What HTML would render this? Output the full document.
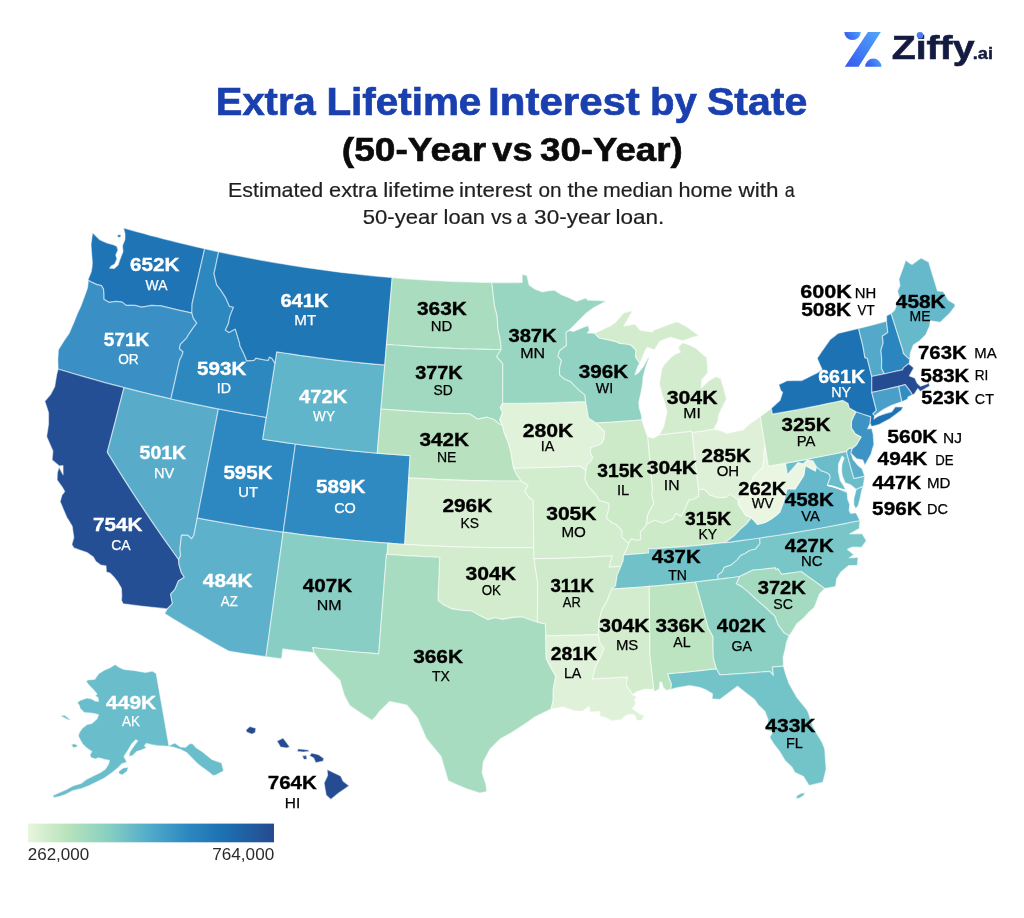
<!DOCTYPE html>
<html lang="en">
<head>
<meta charset="utf-8">
<title>Extra Lifetime Interest by State (50-Year vs 30-Year)</title>
<style>
html,body{margin:0;padding:0;background:#fff}
body{width:1024px;height:918px;overflow:hidden;position:relative;font-family:"Liberation Sans",sans-serif;color:#000}
header,section,figure,footer,h1,h2,p{margin:0;padding:0;font:inherit}
svg{position:absolute;display:block;overflow:visible;font-family:"Liberation Sans",sans-serif}
.states path{stroke:#fff;stroke-width:1.2;stroke-linejoin:round;stroke-opacity:.5}
.water{fill:none;stroke:#fff;stroke-width:1.5;stroke-linecap:round;stroke-linejoin:round}
.v{font-weight:700;font-size:19.2px;stroke-width:.35}
.a{font-weight:400;font-size:15px;stroke-width:.25}
.w text{fill:#fff;stroke:#fff}
.k text{fill:#000;stroke:#000}
.t1{font-weight:700;font-size:39px;fill:#1a3fae;stroke:#1a3fae;stroke-width:.7}
.t2{font-weight:700;font-size:33.3px;fill:#0b0b0b;stroke:#0b0b0b;stroke-width:.6}
.t3{font-weight:400;font-size:20.6px;fill:#1f1f1f;stroke:#1f1f1f;stroke-width:.2}
.lt{font-weight:400;font-size:17.3px;fill:#2a2a2a}
.z1{font-weight:700;font-size:33.6px;fill:#141b41;stroke:#141b41;stroke-width:.6}
.z2{font-weight:700;font-size:16.2px;fill:#141b41;stroke:#141b41;stroke-width:.4}
</style>
</head>
<body>
<header class="brand">
<svg class="logo" style="left:836px;top:20px" width="176" height="60" viewBox="836 20 176 60" role="img" aria-label="Ziffy.ai">
<defs><linearGradient id="zg" x1="0" y1="1" x2="1" y2="0"><stop offset="0" stop-color="#3557f0"/><stop offset="1" stop-color="#52a8f8"/></linearGradient><linearGradient id="zg1" x1="0" y1="0.3" x2="1" y2="0"><stop offset="0" stop-color="#3a5cf0"/><stop offset="1" stop-color="#4da6f8"/></linearGradient></defs>
<path d="M844.3,31.9H860.7A8.2,8.2 0 0 1 844.3,31.9Z" fill="url(#zg1)"/>
<path d="M867.9,31.9H880.8L858.6,66.65H844.8Z" fill="url(#zg)"/>
<path d="M865.2,66.65A8.1,8.1 0 0 1 881.4,66.65Z" fill="url(#zg1)"/>
<text class="z1" x="891.73" y="59.10" textLength="82.78" lengthAdjust="spacingAndGlyphs">Ziffy</text>
<circle cx="920" cy="35.3" r="3.3" fill="#4a7df0"/>
<text class="z2" x="972.77" y="59.20" textLength="20.22" lengthAdjust="spacingAndGlyphs">.ai</text>
</svg>
</header>
<section class="heading">
<h1><svg class="title" style="left:200px;top:80px" width="624" height="44" viewBox="200 80 624 44" role="img" aria-label="Extra Lifetime Interest by State">
<text class="t1" y="114.60"><tspan x="215.78" textLength="99.87" lengthAdjust="spacingAndGlyphs">Extra</tspan> <tspan x="326.40" textLength="154.93" lengthAdjust="spacingAndGlyphs">Lifetime</tspan> <tspan x="488.14" textLength="151.72" lengthAdjust="spacingAndGlyphs">Interest</tspan> <tspan x="649.90" textLength="46.86" lengthAdjust="spacingAndGlyphs">by</tspan> <tspan x="706.97" textLength="100.33" lengthAdjust="spacingAndGlyphs">State</tspan></text>
</svg></h1>
<h2><svg class="subtitle" style="left:200px;top:128px" width="624" height="44" viewBox="200 128 624 44" role="img" aria-label="(50-Year vs 30-Year)">
<text class="t2" y="160.50"><tspan x="341.88" textLength="144.27" lengthAdjust="spacingAndGlyphs">(50-Year</tspan> <tspan x="492.36" textLength="40.07" lengthAdjust="spacingAndGlyphs">vs</tspan> <tspan x="540.07" textLength="142.68" lengthAdjust="spacingAndGlyphs">30-Year)</tspan></text>
</svg></h2>
<p><svg class="desc" style="left:200px;top:174px" width="624" height="58" viewBox="200 174 624 58" role="img" aria-label="Estimated extra lifetime interest on the median home with a 50-year loan vs a 30-year loan.">
<text class="t3" y="196.90"><tspan x="228.04" textLength="95.24" lengthAdjust="spacingAndGlyphs">Estimated</tspan> <tspan x="329.07" textLength="48.43" lengthAdjust="spacingAndGlyphs">extra</tspan> <tspan x="383.29" textLength="71.11" lengthAdjust="spacingAndGlyphs">lifetime</tspan> <tspan x="458.91" textLength="73.16" lengthAdjust="spacingAndGlyphs">interest</tspan> <tspan x="538.53" textLength="23.12" lengthAdjust="spacingAndGlyphs">on</tspan> <tspan x="567.47" textLength="30.72" lengthAdjust="spacingAndGlyphs">the</tspan> <tspan x="602.98" textLength="70.00" lengthAdjust="spacingAndGlyphs">median</tspan> <tspan x="678.50" textLength="54.16" lengthAdjust="spacingAndGlyphs">home</tspan> <tspan x="738.63" textLength="39.93" lengthAdjust="spacingAndGlyphs">with</tspan> <tspan x="784.74" textLength="9.96" lengthAdjust="spacingAndGlyphs">a</tspan></text>
<text class="t3" y="223.60"><tspan x="362.82" textLength="74.85" lengthAdjust="spacingAndGlyphs">50-year</tspan> <tspan x="443.62" textLength="41.40" lengthAdjust="spacingAndGlyphs">loan</tspan> <tspan x="491.03" textLength="21.14" lengthAdjust="spacingAndGlyphs">vs</tspan> <tspan x="516.61" textLength="10.29" lengthAdjust="spacingAndGlyphs">a</tspan> <tspan x="534.14" textLength="76.33" lengthAdjust="spacingAndGlyphs">30-year</tspan> <tspan x="615.48" textLength="48.88" lengthAdjust="spacingAndGlyphs">loan.</tspan></text>
</svg></p>
</section>
<figure class="map">
<svg class="usmap" style="left:0px;top:224px" width="1024" height="592" viewBox="0 224 1024 592" role="img" aria-label="US choropleth map">
<g class="states">
<path id="st-WA" d="M123.5,227.9L130.2,229.8L136.9,231.7L143.7,233.5L150.4,235.4L157.2,237.1L163.9,238.9L170.7,240.6L177.5,242.3L184.3,244L191.1,245.6L197.9,247.2L204.7,248.7L202.6,257.8L200.5,267L198.4,276.1L196.3,285.3L194.2,294.5L192.1,303.7L191.9,313.1L185.7,311.7L179.5,310.3L173.3,308.8L167.1,307.3L160.9,305.8L156.2,305.6L151.6,305.3L146.5,306.3L141.5,307.2L134.9,305.3L130.5,305.4L126.1,305.4L122.2,302.1L116.1,301.3L109.3,302.4L103.8,299.2L103.8,295L103.5,289.2L101.4,285.6L96.9,284.6L92,282.4L87.9,280L91.2,271.8L92.1,266.4L92.3,261.9L91.7,254.8L91.3,249.5L91,244.3L91.8,238.5L92.6,232.7L96,236.1L99.5,239.6L103.5,241.4L107.7,243.2L113.4,244.7L116.8,246.3L118,250.1L115.8,255.1L117,258.9L114.8,264L111,266.3L109.7,268.2L114.3,268.4L118.1,264.9L120.2,258.7L123,251.5L122.4,245.7L124.9,239.6L125,233.9L123.5,227.9ZM117.3,235.2L119.5,234.4L121.3,235.6L120.2,237.3L117.8,237.2Z" fill="#1e74b4"/>
<path id="st-OR" d="M87.9,280L92,282.4L96.9,284.6L101.4,285.6L103.5,289.2L103.8,295L103.8,299.2L109.3,302.4L116.1,301.3L122.2,302.1L126.1,305.4L130.5,305.4L134.9,305.3L141.5,307.2L146.5,306.3L151.6,305.3L156.2,305.6L160.9,305.8L167.1,307.3L173.3,308.8L179.5,310.3L185.7,311.7L191.9,313.1L193.2,317.9L196.8,323.2L193.4,327.6L191.6,330.2L188,335.5L186.6,338.1L180.4,344.4L179.4,348.7L183.1,351.8L181.8,356L179.6,360.1L177.4,369.8L175.3,379.5L173.1,389.2L170.9,399L163.3,397.2L155.7,395.5L148.2,393.7L140.6,391.8L133.1,389.9L125.5,388L118,386.1L110.5,384.1L103,382.1L95.5,380L88,377.9L80.5,375.7L73,373.6L65.6,371.3L58.1,369.1L57.8,359.7L58.4,349.7L64,340.7L69.3,333.1L71.4,328L73.6,322.9L77.4,313.6L80.7,306.6L82.6,301.4L84.5,296.2L87.5,287.9L88.3,281.3L87.9,280Z" fill="#3a90c4"/>
<path id="st-CA" d="M58.1,369.1L65.4,371.3L72.7,373.5L80,375.6L87.3,377.7L94.6,379.7L101.9,381.8L109.3,383.8L116.6,385.7L124,387.6L121.2,398.4L118.4,409.1L115.7,419.9L112.9,430.6L110.1,441.4L107.3,452.1L112.1,459.9L116.9,467.7L121.7,475.4L126.6,483.1L131.6,490.9L136.6,498.6L141.7,506.2L146.8,513.9L152,521.6L157.2,529.2L162.5,536.8L167.9,544.4L173.3,552L178.7,559.6L178.9,564.2L181.3,572.5L184.3,577.2L178.4,581L174.9,589.4L170.6,594.2L172.4,603.6L167.3,608.9L158.4,607.9L149.6,607L140.8,606L131.9,604.9L123.1,603.8L121.4,600.2L121.8,596.2L121.4,588.2L117.3,581.3L113.7,576.8L109.9,573L106.4,572.1L106,565.9L100.7,565L95.9,561.6L93.3,557L87,552.5L80.4,550.2L73.9,547.9L71.8,544.6L73.8,537.6L73,532L72.2,526.3L69.5,521.8L66.7,517.3L63.4,509.4L60.1,501.6L61.9,495.2L64.7,491.4L62.3,487.2L57.1,480L57.3,473.1L59,467.1L63.1,474.7L63,465.5L59.3,466L55.7,463L52.1,460L52.9,451L49.7,443.7L46.6,436.4L47.6,430.3L48.5,424.2L48.5,418.4L48.5,412.6L46.7,406.9L44.8,401.2L50.5,394.6L54.7,386.6L55.7,380.5L56.7,374.4L58.1,369.1Z" fill="#244f95"/>
<path id="st-NV" d="M124,387.6L131.8,389.6L139.6,391.6L147.5,393.5L155.3,395.4L163.2,397.2L171,399L178.9,400.7L186.8,402.4L194.7,404.1L202.6,405.7L210.5,407.3L218.4,408.9L216.5,418.8L214.6,428.7L212.7,438.6L210.8,448.5L208.8,458.4L206.9,468.3L205,478.2L203.1,488.2L201.1,498.1L199.2,508L197.3,517.9L195.6,526.7L193.9,535.4L191.5,538.8L187.7,535.3L181.6,535.2L181.2,537.4L180.6,543L180,548.5L180.6,555.4L178.7,559.6L173.3,552L167.9,544.4L162.5,536.8L157.2,529.2L152,521.6L146.8,513.9L141.7,506.2L136.6,498.6L131.6,490.9L126.6,483.1L121.7,475.4L116.9,467.7L112.1,459.9L107.3,452.1L110.1,441.4L112.9,430.6L115.7,419.9L118.4,409.1L121.2,398.4L124,387.6Z" fill="#58acca"/>
<path id="st-AZ" d="M197.3,517.9L205.9,519.6L214.4,521.1L223,522.7L231.6,524.2L240.2,525.6L248.8,527L257.4,528.3L266,529.6L274.6,530.9L283.2,532.1L281.8,542.5L280.3,552.9L278.9,563.3L277.5,573.7L276,584.1L274.6,594.5L273.2,604.9L271.7,615.3L270.3,625.6L268.9,636L267.4,646.4L266,656.7L258.5,655.7L251,654.6L243.5,653.5L236,652.3L228.6,651.1L220.4,646.6L212.3,642L204.3,637.3L196.3,632.6L188.3,627.9L180.4,623.2L172.5,618.4L164.6,613.5L167.3,608.9L172.4,603.6L170.6,594.2L174.9,589.4L178.4,581L184.3,577.2L181.3,572.5L178.9,564.2L178.7,559.6L180.6,555.4L180,548.5L180.6,543L181.2,537.4L181.6,535.2L187.7,535.3L191.5,538.8L193.9,535.4L195.6,526.7L197.3,517.9Z" fill="#5db1ca"/>
<path id="st-UT" d="M218.4,408.9L226.4,410.4L234.4,411.8L242.3,413.3L250.3,414.6L258.3,416L266.3,417.3L264.5,428.2L262.8,439.2L270.9,440.5L279.1,441.7L287.2,442.9L295.4,444L293.9,455L292.3,466.1L290.8,477.1L289.3,488.1L287.8,499.1L286.3,510.1L284.7,521.1L283.2,532.1L274.6,530.9L266,529.6L257.4,528.3L248.8,527L240.2,525.6L231.6,524.2L223,522.7L214.4,521.1L205.9,519.6L197.3,517.9L199.2,508L201.1,498.1L203.1,488.2L205,478.2L206.9,468.3L208.8,458.4L210.8,448.5L212.7,438.6L214.6,428.7L216.5,418.8Z" fill="#2d87c0"/>
<path id="st-CO" d="M295.4,444L303.5,445.2L311.7,446.2L319.9,447.2L328.1,448.2L336.3,449.2L344.5,450L352.7,450.9L360.9,451.7L369.1,452.5L377.3,453.2L385.5,453.9L393.7,454.5L401.9,455.1L410.1,455.6L409.5,465.5L408.9,475.3L408.3,485.2L407.7,495L407.1,504.9L406.5,514.8L405.9,524.6L405.3,534.5L404.7,544.4L396.5,543.8L388.4,543.2L380.3,542.6L372.2,542L364.1,541.3L356,540.5L347.9,539.8L339.8,538.9L331.7,538.1L323.6,537.2L315.5,536.3L307.4,535.3L299.3,534.3L291.3,533.2L283.2,532.1L284.7,521.1L286.3,510.1L287.8,499.1L289.3,488.1L290.8,477.1L292.3,466.1L293.9,455Z" fill="#2f8ac1"/>
<path id="st-WY" d="M276.7,351.8L284.4,353L292.1,354.1L299.8,355.3L307.5,356.3L315.2,357.4L322.9,358.4L330.6,359.3L338.3,360.3L346.1,361.2L353.8,362L361.5,362.8L369.3,363.6L377,364.3L384.8,364.9L383.8,375.9L382.9,386.9L382,398L381,409L380.1,420L379.1,431.1L378.2,442.1L377.3,453.2L369.1,452.5L360.9,451.7L352.7,450.9L344.5,450L336.3,449.2L328.1,448.2L319.9,447.2L311.7,446.2L303.5,445.2L295.4,444L287.2,442.9L279.1,441.7L270.9,440.5L262.8,439.2L264.5,428.2L266.3,417.3L268,406.3L269.8,395.4L271.5,384.5L273.3,373.6L275,362.6Z" fill="#61b5ca"/>
<path id="st-NM" d="M283.2,532.1L291.2,533.2L299.3,534.3L307.3,535.3L315.4,536.2L323.4,537.2L331.5,538.1L339.5,538.9L347.6,539.7L355.7,540.5L363.7,541.2L371.8,541.9L379.9,542.6L388,543.2L387.2,554.3L386.5,554.2L385.7,564.2L384.9,574.2L384.1,584.2L383.4,594.1L382.6,604.1L381.8,614L381,624L380.3,633.9L379.5,643.9L378.7,653.8L370.5,653.2L362.2,652.5L354,651.8L345.7,651L337.5,650.2L329.3,649.4L321.1,648.5L312.8,647.6L314,652.7L306.2,651.8L298.4,650.9L290.6,649.9L282.9,648.9L281.6,658.8L273.8,657.8L266,656.7L267.4,646.4L268.9,636L270.3,625.6L271.7,615.3L273.2,604.9L274.6,594.5L276,584.1L277.5,573.7L278.9,563.3L280.3,552.9L281.8,542.5Z" fill="#88cec5"/>
<path id="st-ID" d="M204.7,248.7L211.7,250.3L218.7,251.8L217.1,259L215.6,266.3L214,273.5L215.3,279.2L216.7,284.8L221.7,291.4L225.8,297.9L229.5,306.4L233.5,307.2L229.8,316.6L228.3,324.1L225.4,330.1L229,332.6L235.3,329.1L236.7,333.6L239.6,343.1L240,346.1L242,350L244.5,355.2L246.7,360.8L254,360.3L255.8,358.1L262,359.4L268.2,360.4L269.3,357L272,358.4L274.9,363.1L273.2,373.9L271.5,384.7L269.7,395.6L268,406.4L266.3,417.3L258.3,416L250.3,414.6L242.3,413.3L234.4,411.8L226.4,410.4L218.4,408.9L210.5,407.3L202.5,405.7L194.6,404.1L186.7,402.4L178.8,400.7L170.9,399L173.1,389.2L175.3,379.5L177.4,369.8L179.6,360.1L181.8,356L183.1,351.8L179.4,348.7L180.4,344.4L186.6,338.1L188,335.5L191.6,330.2L193.4,327.6L196.8,323.2L193.2,317.9L191.9,313.1L192.1,303.7L194.2,294.5L196.3,285.3L198.4,276.1L200.5,267L202.6,257.8L204.7,248.7Z" fill="#2d88c0"/>
<path id="st-MT" d="M218.7,251.8L225.8,253.3L233,254.8L240.2,256.2L247.3,257.6L254.5,259L261.7,260.3L268.9,261.6L276.1,262.8L283.3,264L290.6,265.2L297.8,266.3L305,267.4L312.3,268.5L319.5,269.5L326.7,270.5L334,271.4L341.3,272.4L348.5,273.2L355.8,274L363.1,274.8L370.3,275.6L377.6,276.3L384.9,277L392.2,277.6L391.3,288.5L390.3,299.3L389.4,310.2L388.5,321.1L387.5,332.1L386.6,343L385.7,354L384.8,364.9L377,364.3L369.3,363.6L361.5,362.8L353.8,362L346.1,361.2L338.3,360.3L330.6,359.3L322.9,358.4L315.2,357.4L307.5,356.3L299.8,355.3L292.1,354.1L284.4,353L276.7,351.8L275.8,357.4L274.9,363.1L272,358.4L269.3,357L268.2,360.4L262,359.4L255.8,358.1L254,360.3L246.7,360.8L244.5,355.2L242,350L240,346.1L239.6,343.1L236.7,333.6L235.3,329.1L229,332.6L225.4,330.1L228.3,324.1L229.8,316.6L233.5,307.2L229.5,306.4L225.8,297.9L221.7,291.4L216.7,284.8L215.3,279.2L214,273.5L215.6,266.3L217.1,259L218.7,251.8Z" fill="#2077b6"/>
<path id="st-ND" d="M392.2,277.6L399.3,278.2L406.4,278.8L413.5,279.3L420.6,279.7L427.7,280.2L434.8,280.6L441.9,280.9L449.1,281.3L456.2,281.6L463.3,281.8L470.4,282L477.5,282.2L484.7,282.4L491.8,282.5L492.5,287.9L493.1,293.4L493.8,299.6L494.5,305.8L497.1,315.3L497.5,322.1L498,328.9L499.3,335.2L500.6,341.6L501.2,349.5L493.5,349.5L485.9,349.4L478.2,349.2L470.6,349L462.9,348.8L455.3,348.5L447.6,348.2L440,347.9L432.3,347.5L424.7,347.1L417,346.6L409.4,346.1L401.8,345.5L394.1,345L386.5,344.3L387.3,334.8L388.1,325.2L388.9,315.6L389.8,306.1L390.6,296.6L391.4,287.1Z" fill="#aaddc0"/>
<path id="st-SD" d="M386.5,344.3L394.1,345L401.8,345.5L409.4,346.1L417,346.6L424.7,347.1L432.3,347.5L440,347.9L447.6,348.2L455.3,348.5L462.9,348.8L470.6,349L478.2,349.2L485.9,349.4L493.5,349.5L501.2,349.5L496.7,356.5L499.7,360.1L502.8,363.6L502.8,373.5L502.7,383.5L502.7,393.4L502.6,403.4L500.2,407.8L502.6,412.2L499.7,419.9L502.5,425.7L498.5,423.3L493.7,419.5L487.3,417.2L482.5,418.2L477.6,419.2L473.7,416.6L469.7,413.9L462.3,413.7L454.9,413.5L447.5,413.2L440.1,412.8L432.7,412.5L425.3,412.1L418,411.7L410.6,411.2L403.2,410.7L395.8,410.2L388.4,409.6L381,409L381.9,398.2L382.9,387.4L383.8,376.6L384.7,365.8L385.6,355.1Z" fill="#a0d9c0"/>
<path id="st-NE" d="M381,409L388.4,409.6L395.8,410.2L403.2,410.7L410.6,411.2L418,411.7L425.3,412.1L432.7,412.5L440.1,412.8L447.5,413.2L454.9,413.5L462.3,413.7L469.7,413.9L473.7,416.6L477.6,419.2L482.5,418.2L487.3,417.2L493.7,419.5L498.5,423.3L502.5,425.7L504.1,432.2L506.1,437.2L508.1,442.1L510.9,452.1L512.3,461L513.6,468.1L517.3,475.4L521.3,481L513.3,481L505.2,481L497.2,481L489.1,480.9L481.1,480.7L473,480.6L465,480.4L456.9,480.1L448.9,479.8L440.9,479.5L432.8,479.1L424.8,478.7L416.8,478.3L408.7,477.8L409.4,466.7L410.1,455.6L401.9,455.1L393.7,454.5L385.5,453.9L377.3,453.2L378.2,442.1L379.1,431.1L380.1,420Z" fill="#b8e2bf"/>
<path id="st-KS" d="M408.7,477.8L416.8,478.3L424.8,478.7L432.8,479.1L440.9,479.5L448.9,479.8L456.9,480.1L465,480.4L473,480.6L481.1,480.7L489.1,480.9L497.2,481L505.2,481L513.3,481L521.3,481L528.2,485.3L524.9,490.9L528.3,496.5L533.3,500.6L533.4,510L533.5,519.4L533.6,528.8L533.7,538.1L533.8,547.5L525.2,547.6L516.6,547.7L508,547.7L499.4,547.7L490.7,547.6L482.1,547.5L473.5,547.3L464.9,547.1L456.3,546.8L447.7,546.5L439.1,546.2L430.5,545.8L421.9,545.4L413.3,544.9L404.7,544.4L405.2,534.8L405.8,525.3L406.4,515.8L407,506.3L407.6,496.8L408.1,487.3Z" fill="#d8eed3"/>
<path id="st-OK" d="M388,543.2L396.5,543.8L405.1,544.4L413.7,544.9L422.2,545.4L430.8,545.8L439.4,546.2L448,546.5L456.6,546.8L465.1,547.1L473.7,547.3L482.3,547.5L490.9,547.6L499.5,547.7L508.1,547.7L516.6,547.7L525.2,547.6L533.8,547.5L534,558.6L535.2,566.8L536.5,574.9L537.7,583L537.6,592.8L537.6,602.6L537.5,612.3L537.4,622.1L529.8,619.8L522.5,617L517.9,617.2L513.4,617.4L508,618.4L502.5,619.4L495.3,617.6L488,619.7L483.5,617.5L479,615.2L471.8,611L467.3,610.7L462.8,610.4L457.4,609.7L452,608.9L447.5,606.8L443.1,604.6L437.9,600.4L438.3,589.6L438.8,578.9L439.2,568.1L439.7,557.3L430.9,556.9L422.2,556.5L413.4,556L404.7,555.5L395.9,554.9L387.2,554.3Z" fill="#d3ecce"/>
<path id="st-TX" d="M386.5,554.2L394.1,554.8L401.7,555.3L409.2,555.8L416.9,556.2L424.5,556.6L432.1,557L439.7,557.3L439.2,568.1L438.8,578.9L438.3,589.6L437.9,600.4L443.1,604.6L447.5,606.8L452,608.9L457.4,609.7L462.8,610.4L467.3,610.7L471.8,611L479,615.2L483.5,617.5L488,619.7L495.3,617.6L502.5,619.4L508,618.4L513.4,617.4L517.9,617.2L522.5,617L529.8,619.8L537.4,622.1L545.5,624L545.7,632.6L545.9,641.2L546,649.9L546.2,658.5L550.5,667L555.8,676.2L554.5,682.6L553.3,689.1L553.2,694.6L553.2,700.1L551.1,709L542.9,713L534.7,717L527.1,722.6L519.4,727.6L511.7,732.5L505.9,735.8L500.1,739.1L495.2,744L490.2,748.9L486.7,755.4L483.2,762L482.7,767.4L482.1,772.9L484,778.4L485.9,783.9L486.8,791.5L479.8,793L472.8,790.8L465.9,788.5L457,784.7L448.2,780.8L445.8,772.7L443.4,764.6L441.1,756.5L436.1,750.5L431.1,744.4L426.2,738.3L423.3,731.6L420.4,724.9L417.5,718.1L412.1,711.5L406.7,705L398.2,703.2L389.7,701.5L384.6,706.4L379.4,711.4L376.2,716L372,720.3L366.3,716.7L360.6,713L355.1,709.3L349.7,705.5L347,700.4L344.3,695.2L342.1,687.8L340,680.4L334.8,675.2L329.6,669.9L324.5,665L319.3,660.1L314,652.7L312.8,647.6L321.1,648.5L329.3,649.4L337.5,650.2L345.7,651L354,651.8L362.2,652.5L370.5,653.2L378.7,653.8L379.5,643.9L380.3,633.9L381,624L381.8,614L382.6,604.1L383.4,594.1L384.1,584.2L384.9,574.2L385.7,564.2Z" fill="#a8dcc0"/>
<path id="st-LA" d="M545.7,635.7L554.5,635.6L563.3,635.4L572.1,635.2L580.8,634.9L589.6,634.6L598.4,634.3L600.1,643L604.1,648.4L600.8,656.3L598.3,661.4L595.7,666.5L594.1,672.7L592.5,678.8L601.3,678.4L610.1,677.9L618.9,677.4L627.7,676.9L626.3,684.7L629.5,689.7L632.7,694.7L637.2,697.2L634.5,699.6L635.8,704L632.3,708.6L639.3,713.6L644.3,715.5L641.8,720.5L636.9,720.4L634.6,715.1L628.8,714.4L624.1,716.9L621.4,719.7L616.6,720.3L611.9,720.9L605.9,717.9L600,716L599.8,711.6L590.2,712.1L589,706.6L582.5,711.3L574.9,710.9L569.1,709L563.3,707.1L557.2,708L551.1,709L553.2,700.1L553.2,694.6L553.3,689.1L554.5,682.6L555.8,676.2L550.5,667L546.2,658.5L546,650.9L545.9,643.3Z" fill="#e0f1d9"/>
<path id="st-AR" d="M534,558.6L542.7,558.5L551.4,558.3L560.1,558.1L568.8,557.8L577.5,557.4L586.2,557.1L594.9,556.6L603.6,556.2L612.3,555.7L610.7,561.3L609.1,567L615,566.6L620.9,566.2L617.1,575.4L615.6,586L611.7,589.1L609.5,594.8L607.3,600.5L604.7,605.1L602,609.6L600.5,615.3L599,620.9L598.7,627.6L598.4,634.3L589.6,634.6L580.8,634.9L572.1,635.2L563.3,635.4L554.5,635.6L545.7,635.7L545.6,629.8L545.5,624L537.4,622.1L537.5,612.3L537.6,602.6L537.6,592.8L537.7,583L536.5,574.9L535.2,566.8Z" fill="#ceeaca"/>
<path id="st-MO" d="M513.6,468.1L521,468L528.5,467.9L535.9,467.7L543.4,467.5L550.8,467.2L558.2,466.9L565.7,466.6L573.1,466.3L580.5,465.9L585.9,470.7L585,479.2L587.8,485.8L591.8,490L595.8,494.3L599.6,500.7L603.9,501.6L609.1,503.5L608.9,508.4L606.5,518.1L612.9,523.3L615.9,524.2L622,530.5L622.1,537.2L629,543.4L626.8,549.1L623.7,554.9L623.2,560.5L620.9,566.2L615,566.6L609.1,567L610.7,561.3L612.3,555.7L603.6,556.2L594.9,556.6L586.2,557.1L577.5,557.4L568.8,557.8L560.1,558.1L551.4,558.3L542.7,558.5L534,558.6L533.8,547.5L533.7,538.1L533.6,528.8L533.5,519.4L533.4,510L533.3,500.6L528.3,496.5L524.9,490.9L528.2,485.3L521.3,481L517.3,475.4L513.6,468.1Z" fill="#d2ecce"/>
<path id="st-IA" d="M502.6,403.4L510.2,403.4L517.7,403.4L525.3,403.3L532.9,403.2L540.4,403.1L548,402.9L555.5,402.7L563.1,402.4L570.6,402.1L578.2,401.8L585.7,401.5L587.4,411.4L588.5,417.9L592.3,420.5L596,423.1L600.3,427.3L604.6,431.5L604.2,438.2L602.1,443.2L598.1,445.2L590.9,447.8L590.3,452.3L593,457.7L590.7,461.1L586.8,465.3L585.9,470.7L580.5,465.9L573.1,466.3L565.7,466.6L558.2,466.9L550.8,467.2L543.4,467.5L535.9,467.7L528.5,467.9L521,468L513.6,468.1L512.3,461L510.9,452.1L508.1,442.1L506.1,437.2L504.1,432.2L502.5,425.7L499.7,419.9L502.6,412.2L500.2,407.8L502.6,403.4Z" fill="#e0f2da"/>
<path id="st-MN" d="M491.8,282.5L497.9,282.6L504,282.6L510,282.6L516.1,282.6L522.2,282.5L522.1,274.3L527,275.5L529.1,285.1L534.8,288.9L538.5,290.5L542.2,292L548,290.8L554.7,290.2L558,292.4L561.4,294.7L565.2,296.2L569,297.7L572.7,299.5L576.5,301.3L581.3,299.6L586,298L587.6,300.1L593.2,300.3L598.8,300.5L602.5,300.8L606.3,301.1L600.3,304.2L594.3,307.3L590.2,310.3L586.1,313.3L580.8,318.6L575.1,324.3L572,327.4L568.8,330.5L566,332.6L566.3,339L566.5,345.4L563.1,348L559.7,350.7L557.9,356.2L561.5,360.5L559.5,368.3L559.7,374.9L564.1,378.7L570.9,381.8L574.2,385.4L578.5,389.6L584.9,394.9L585.7,401.5L578.2,401.8L570.6,402.1L563.1,402.4L555.5,402.7L548,402.9L540.4,403.1L532.9,403.2L525.3,403.3L517.7,403.4L510.2,403.4L502.6,403.4L502.7,393.4L502.7,383.5L502.8,373.5L502.8,363.6L499.7,360.1L496.7,356.5L501.2,349.5L500.6,341.6L499.3,335.2L498,328.9L497.5,322.1L497.1,315.3L494.5,305.8L493.8,299.6L493.1,293.4L492.5,287.9L491.8,282.5Z" fill="#98d6c2"/>
<path id="st-WI" d="M568.8,330.5L573.4,331.4L577.9,329.6L582.3,327.7L588.3,325.2L589.3,330.7L587.2,333L594.5,333.2L599.3,338L604.6,339.1L609.9,340.2L615.2,341.3L619.9,343.4L626.1,344L630.8,345L635.8,349.8L635.7,357.1L639.3,362.4L640.1,362.7L638,365.8L634.9,374.9L638.6,372.4L643.5,366.4L645.8,362L648.2,357.6L649,358.1L647.1,363.3L645.3,368.5L643,377.5L642.7,383.1L641.1,392.1L638.8,402.3L639.2,407.8L641.5,415.4L641.9,419.8L634.3,420.5L626.6,421.1L619,421.6L611.3,422.2L603.7,422.6L596,423.1L592.3,420.5L588.5,417.9L587.4,411.4L585.7,401.5L584.9,394.9L578.5,389.6L574.2,385.4L570.9,381.8L564.1,378.7L559.7,374.9L559.5,368.3L561.5,360.5L557.9,356.2L559.7,350.7L563.1,348L566.5,345.4L566.3,339L566,332.6L568.8,330.5Z" fill="#91d2c3"/>
<path id="st-IL" d="M596,423.1L603.7,422.6L611.3,422.2L619,421.6L626.6,421.1L634.3,420.5L641.9,419.8L644.1,426.9L646.4,433.9L647.8,436.7L648.7,447.1L649.6,457.6L650.6,468.1L651.5,478.6L652.5,489.1L651.8,494.7L653.8,503.9L650.5,509.3L647.6,515.2L646.6,524.2L645.4,526.5L640.3,532.5L640.9,539.2L637.5,540.5L631.3,538.8L629,543.4L622.1,537.2L622,530.5L615.9,524.2L612.9,523.3L606.5,518.1L608.9,508.4L609.1,503.5L603.9,501.6L599.6,500.7L595.8,494.3L591.8,490L587.8,485.8L585,479.2L585.9,470.7L586.8,465.3L590.7,461.1L593,457.7L590.3,452.3L590.9,447.8L598.1,445.2L602.1,443.2L604.2,438.2L604.6,431.5L600.3,427.3L596,423.1Z" fill="#cce9c8"/>
<path id="st-IN" d="M647.8,436.7L653.3,438.2L659.2,434.7L665.8,434.1L672.3,433.4L678.9,432.7L685.4,431.9L692,431.2L692.1,432.5L693.2,442.1L694.3,451.6L695.3,461.2L696.4,470.7L697.5,480.3L698.6,489.9L698.8,496.6L693.2,499.5L689,499.9L686.8,505L684.6,510L681.3,516.4L675.8,513.6L672.9,519.1L667.9,521.1L662.9,523.2L654.5,520.2L650.6,522.2L646.6,524.2L647.6,515.2L650.5,509.3L653.8,503.9L651.8,494.7L652.5,489.1L651.5,478.6L650.6,468.1L649.6,457.6L648.7,447.1L647.8,436.7Z" fill="#d3ecce"/>
<path id="st-OH" d="M692.1,432.5L699.4,431.4L706.6,430.3L713.9,429.1L721.5,431L726.9,433.6L732.5,432.2L738.1,430.9L742.9,430.1L746.5,426.8L750.1,423.4L755.2,420L760.3,416.6L761.9,426.4L763.5,436.2L765.1,445.9L764.3,451.5L763.8,459L762.7,467.5L758.4,471.6L754.1,475.6L752.8,478.7L750.1,483L749.7,486.4L744.2,489.5L744.1,495.1L740.5,499.7L738,500L733.2,496.6L730.2,494.1L725.6,497.7L717.8,497.6L709.8,495.2L703.9,489.2L698.6,489.9L697.5,480.3L696.4,470.7L695.3,461.2L694.3,451.6L693.2,442.1L692.1,432.5Z" fill="#def0d8"/>
<path id="st-MI" d="M713.9,429.1L717.8,421.4L718.6,415.3L721.7,408.6L724.1,403.7L726.5,398.9L725.1,393.5L723.7,388.2L720.7,378.5L715.7,376.6L712,379L708.3,381.3L704.8,384.6L701.2,387.9L701.8,380L704.9,376.2L707.9,372.5L707.3,364.8L706.7,357.1L705,356.2L700.6,352.3L696.2,348.4L689.5,344.9L682.6,342.8L678.1,347.3L680.3,352.2L675.1,354.3L671.5,356.9L668,360.6L664.4,364.3L661.8,369.1L660.6,376.4L659.3,383.7L661.9,393.5L664.4,402.1L667,411.4L665.3,419.1L663.7,426.7L659.2,434.7L665.8,434.1L672.3,433.4L678.9,432.7L685.4,431.9L692,431.2L692.1,432.5L699.4,431.4L706.6,430.3L713.9,429.1ZM640.1,362.7L642.6,356.7L645.2,350.8L647.2,347.3L654.4,349.9L657.1,345.7L659.7,341.6L664.9,339.4L670,337.2L676.3,339L682.5,340.8L687.1,339.2L691.7,337.5L695.4,336.7L699.2,335.9L692.8,331.1L686.4,326.4L681.6,324L676.7,321.6L672.7,323.1L668.6,324.5L663.8,326.4L658.9,328.2L654,330L651.9,332L646,331.1L640.2,330.2L635.1,324.1L629.5,325.1L623.9,326.1L628.2,318.4L632.5,310.7L628,311.8L623.6,313L619.5,317.7L615.3,322.4L611,325.6L605.5,328.1L600,330.7L594.5,333.2L599.3,338L604.6,339.1L609.9,340.2L615.2,341.3L619.9,343.4L626.1,344L630.8,345L635.8,349.8L635.7,357.1L639.3,362.4L640.1,362.7Z" fill="#d3ecce"/>
<path id="st-KY" d="M629,543.4L631.3,538.8L637.5,540.5L640.9,539.2L640.3,532.5L645.4,526.5L646.6,524.2L650.6,522.2L654.5,520.2L662.9,523.2L667.9,521.1L672.9,519.1L675.8,513.6L681.3,516.4L684.6,510L686.8,505L689,499.9L693.2,499.5L698.8,496.6L698.6,489.9L703.9,489.2L709.8,495.2L717.8,497.6L725.6,497.7L730.2,494.1L733.2,496.6L738,500L738.6,504.9L743,511L745.3,515.1L751.5,517.8L746.6,523.9L740.4,529.3L734.2,535.8L729.6,539.2L724.9,542.6L716.8,543.5L708.7,544.4L700.7,545.2L692.6,546L684.5,546.7L677.3,547.2L670,547.7L662.8,548.2L655.6,548.6L648.3,549L648.7,553L640.3,553.7L632,554.3L623.7,554.9L626.8,549.1L629,543.4Z" fill="#cce9c8"/>
<path id="st-TN" d="M759.6,538L752.7,539L745.7,539.9L738.8,540.8L731.8,541.8L724.9,542.6L716.8,543.5L708.7,544.4L700.7,545.2L692.6,546L684.5,546.7L677.3,547.2L670,547.7L662.8,548.2L655.6,548.6L648.3,549L648.7,553L640.3,553.7L632,554.3L623.7,554.9L623.2,560.5L620.9,566.2L617.1,575.4L615.6,586L611.7,589.1L619.2,588.6L626.6,588.1L634.1,587.6L641.6,587L649.1,586.4L656.8,585.8L664.6,585.1L672.3,584.4L680,583.6L687.7,582.8L695.4,582L703,581.1L710.6,580.2L718.1,579.3L717.9,574.9L722.1,572.1L724.2,567.4L731.1,565.1L737.5,559.6L740.5,555.6L745.5,553.3L749.6,550.5L755.6,549.1L760.1,543.3L759.6,538Z" fill="#70c2c8"/>
<path id="st-NC" d="M759.6,538L768,536.7L776.4,535.5L784.8,534.2L793.1,532.8L801.5,531.4L809.9,530L818.2,528.5L826.6,527L834.9,525.4L843.2,523.8L851.5,522.2L859.9,520.5L859.3,528.6L854.4,531.3L849.6,534L855.9,533.8L862.1,533.6L866.4,540.7L861.5,547.4L856.9,547.2L852.3,547.1L847.3,549.2L853.9,554.7L849.1,557.9L853.6,557.6L858.1,557.2L857.4,565.3L848.8,565.5L844.8,568.8L840.9,572L836.7,578.5L835.5,586.6L830.1,587.6L824.7,588.5L816.8,582.8L809,577.2L801.1,571.5L794.6,572.5L788,573.4L781.4,574.3L777.8,568.6L775.9,570.1L775.5,567.9L767.8,568.7L760.1,569.5L752.4,570.2L746,573.4L739.6,576.5L732.4,577.5L725.3,578.4L718.1,579.3L717.9,574.9L722.1,572.1L724.2,567.4L731.1,565.1L737.5,559.6L740.5,555.6L745.5,553.3L749.6,550.5L755.6,549.1L760.1,543.3L759.6,538Z" fill="#78c6c7"/>
<path id="st-SC" d="M739.6,576.5L746,573.4L752.4,570.2L760.1,569.5L767.8,568.7L775.5,567.9L775.9,570.1L777.8,568.6L781.4,574.3L788,573.4L794.6,572.5L801.1,571.5L809,577.2L816.8,582.8L824.7,588.5L819.3,594.2L816.2,602.6L814.3,607.5L809.4,611.7L804.8,617L800.7,620.5L796.6,624L792.2,631.4L789.1,635.8L783.9,632.8L778,624.7L774.8,616.3L770,611.7L765.1,607.2L757.8,600.9L753,596.5L748.3,592.1L741.1,586.4L736.2,583.7L739.6,576.5Z" fill="#a4dac0"/>
<path id="st-GA" d="M695.4,582L703,581.1L710.6,580.2L718.1,579.3L725.3,578.4L732.4,577.5L739.6,576.5L736.2,583.7L741.1,586.4L748.3,592.1L753,596.5L757.8,600.9L765.1,607.2L770,611.7L774.8,616.3L778,624.7L783.9,632.8L789.1,635.8L786.4,642.5L785.4,648.2L783.1,657.5L783.5,666.2L778,666.6L772.5,666.9L773.4,675.5L769.9,671.3L761.5,672L753.2,672.7L744.8,673.3L736.4,673.8L728,674.4L719.7,674.8L716.3,668.8L714.7,663.4L713.2,658L713,652.5L712.8,646.9L712.9,636.7L708.2,628.1L705.6,618.9L703.1,609.7L700.5,600.4L697.9,591.2L695.4,582Z" fill="#8cd0c4"/>
<path id="st-FL" d="M670.5,689.5L671.4,684.5L669.5,679.2L667.6,673.8L675.8,673L683.9,672.3L692,671.5L700.1,670.6L708.2,669.7L716.3,668.8L719.7,674.8L728,674.4L736.4,673.8L744.8,673.3L753.2,672.7L761.5,672L769.9,671.3L773.4,675.5L772.5,666.9L778,666.6L783.5,666.2L785.6,673.9L789,683.4L793,690.6L797.1,697.7L801.9,703.6L806.8,709.5L808.3,712.6L810.3,719L812.4,725.3L816.7,733.5L822.2,742.5L824.7,748.8L825.4,759L826.1,769.1L824.1,777.6L822.8,782.3L815.9,783.9L809,785.6L803.5,776.5L794.8,772.4L792,767.3L785,760.6L779.6,751.4L773.5,743.5L769.7,737.4L772.8,731.4L766.1,730.1L768.2,719.9L765,711.4L758.3,705L754.6,699.5L750.3,696.2L746,692.9L741.7,689.6L737.5,686.2L730.5,691.5L725.2,695.5L719.9,699.5L712.1,698.8L712.5,693.7L705.3,689.6L699.3,687.3L694.5,686.4L689.6,685.5L683.1,686.7L676.5,687.8L670.5,689.5ZM795.5,798.6L797,795.6L801,793.2L805,792.8L803.8,795.4L799.5,798.2Z" fill="#73c4c8"/>
<path id="st-AL" d="M649.1,586.4L656.8,585.8L664.6,585.1L672.3,584.4L680,583.6L687.7,582.8L695.4,582L697.9,591.2L700.5,600.4L703.1,609.7L705.6,618.9L708.2,628.1L712.9,636.7L712.8,646.9L713,652.5L713.2,658L714.7,663.4L716.3,668.8L708.2,669.7L700.1,670.6L692,671.5L683.9,672.3L675.8,673L667.6,673.8L669.5,679.2L671.4,684.5L670.5,689.5L666.3,690.5L663.1,687.5L661.7,682.1L659.8,682.2L659.4,688.9L654,692L652.9,682.8L651.9,673.7L650.8,664.5L649.7,655.3L649.7,645.5L649.6,635.7L649.5,625.8L649.4,616L649.3,606.1L649.2,596.3L649.1,586.4Z" fill="#bde4c1"/>
<path id="st-MS" d="M611.7,589.1L619.2,588.6L626.6,588.1L634.1,587.6L641.6,587L649.1,586.4L649.2,596.3L649.3,606.1L649.4,616L649.5,625.8L649.6,635.7L649.7,645.5L649.7,655.3L650.8,664.5L651.9,673.7L652.9,682.8L654,692L653.8,689.3L649,689.3L644.3,689.2L636.8,691.7L632.7,694.7L629.5,689.7L626.3,684.7L627.7,676.9L618.9,677.4L610.1,677.9L601.3,678.4L592.5,678.8L594.1,672.7L595.7,666.5L598.3,661.4L600.8,656.3L604.1,648.4L600.1,643L598.4,634.3L598.7,627.6L599,620.9L600.5,615.3L602,609.6L604.7,605.1L607.3,600.5L609.5,594.8L611.7,589.1Z" fill="#d3ecce"/>
<path id="st-VA" d="M724.9,542.6L731.8,541.8L738.8,540.8L745.7,539.9L752.7,539L759.6,538L768,536.7L776.4,535.5L784.8,534.2L793.1,532.8L801.5,531.4L809.9,530L818.2,528.5L826.6,527L834.9,525.4L843.2,523.8L851.5,522.2L859.9,520.5L856.8,514.3L855.9,512.7L850.7,513.4L849.1,510.3L849.7,504.5L847.7,499.2L847.2,492.5L840.4,489.4L832.8,486.4L827.3,485.2L830.2,477.9L829.7,474.6L826.5,472.5L820.9,470.6L816.3,466.5L815.3,471L810.3,468.3L805.3,465.5L803.8,475.5L799.5,482.2L795,489.1L787.1,488.7L785.3,495.5L783.4,502.4L779.8,512L776,515.6L771.3,519L765.2,522.5L757.6,524.5L751.5,517.8L746.6,523.9L740.4,529.3L734.2,535.8L729.6,539.2L724.9,542.6ZM855.5,508.5L853.8,504.7L853.8,499L856.2,489.4L863.3,486L861.7,490.5L860,498.9L858,506.1Z" fill="#65b9cb"/>
<path id="st-WV" d="M765.1,445.9L766.7,456L768.4,466.1L774.1,465.2L779.9,464.2L785.6,463.2L786.5,468.9L787.4,474.6L790.6,471L793.7,467.4L797.8,462.6L803.3,463.8L807.1,459.7L813,460.9L816.3,466.5L815.3,471L810.3,468.3L805.3,465.5L803.8,475.5L799.5,482.2L795,489.1L787.1,488.7L785.3,495.5L783.4,502.4L779.8,512L776,515.6L771.3,519L765.2,522.5L757.6,524.5L751.5,517.8L745.3,515.1L743,511L738.6,504.9L738,500L740.5,499.7L744.1,495.1L744.2,489.5L749.7,486.4L750.1,483L752.8,478.7L754.1,475.6L758.4,471.6L762.7,467.5L763.8,459L764.3,451.5L765.1,445.9Z" fill="#eaf6e2"/>
<path id="st-MD" d="M785.6,463.2L793.2,461.8L800.8,460.4L808.4,459L816,457.5L823.6,456L831.2,454.5L838.8,452.9L846.4,451.3L848.8,460.3L851.3,469.3L853.8,478.4L859.2,477.3L864.7,476.2L863.3,486L856.2,489.4L850.8,484.9L845.1,482.7L842.2,475.4L841.5,469.8L842,464.1L844.2,457.9L842.1,456.1L838.5,463.7L838.4,471.6L840.2,480.3L842.8,484.3L845.6,489.4L847.2,492.5L840.4,489.4L832.8,486.4L827.3,485.2L830.2,477.9L829.7,474.6L826.5,472.5L820.9,470.6L816.3,466.5L813,460.9L807.1,459.7L803.3,463.8L797.8,462.6L793.7,467.4L790.6,471L787.4,474.6L786.5,468.9L785.6,463.2Z" fill="#6bbec9"/>
<path id="st-DE" d="M846.4,451.3L849,448.2L852.4,448.2L850.9,453.1L853.1,459.4L857.8,465.2L862.1,468.8L864.7,476.2L859.2,477.3L853.8,478.4L851.3,469.3L848.8,460.3L846.4,451.3Z" fill="#5aaeca"/>
<path id="st-NJ" d="M856.1,411.8L863.4,414.2L870.7,416.6L870.2,423.6L867.6,428.8L871.8,428.5L873.2,434.3L873.9,444.4L872.4,449.3L871,454.2L867.9,459.7L864.8,465.2L862.8,460L856.4,458.7L850.9,453.1L852.4,448.2L856.3,445L861,437.1L855.2,433.9L851.3,427.9L851.5,421.1L853.7,416L856.1,411.8Z" fill="#3e93c5"/>
<path id="st-PA" d="M771.3,408.2L765.8,412.4L760.3,416.6L765.8,412.4L771.3,408.2L772.4,414.1L780.2,412.7L788,411.3L795.9,409.9L803.7,408.4L811.5,406.8L819.3,405.3L827.1,403.6L834.9,402L842.7,400.3L848.1,403.6L849.4,407.9L856.1,411.8L853.7,416L851.5,421.1L851.3,427.9L855.2,433.9L861,437.1L856.3,445L852.4,448.2L849,448.2L846.4,451.3L838.8,452.9L831.2,454.5L823.6,456L816,457.5L808.4,459L800.8,460.4L793.2,461.8L785.6,463.2L779.9,464.2L774.1,465.2L768.4,466.1L766.7,456L765.1,445.9L763.5,436.2L761.9,426.4L760.3,416.6L765.8,412.4Z" fill="#c5e6c5"/>
<path id="st-NY" d="M858.6,328.5L851.8,330.1L845,331.7L838.2,333.3L834.1,336.5L830.1,339.6L825.8,345.7L821.5,351.7L817.2,358.2L819.6,363.9L822.1,369.6L817.8,372.6L812.4,375.2L807,377.9L801.5,380.6L794.2,380.6L786.9,380.7L782.9,382.7L778.8,384.6L780.6,390.2L782.6,392.5L780,400.4L775.7,404.3L771.3,408.2L772.4,414.1L780.2,412.7L788,411.3L795.9,409.9L803.7,408.4L811.5,406.8L819.3,405.3L827.1,403.6L834.9,402L842.7,400.3L848.1,403.6L849.4,407.9L856.1,411.8L863.4,414.2L870.7,416.6L870.2,423.6L871.4,426.5L875.4,425.5L879.4,424.4L884.7,421.6L890,418.8L895.7,414.5L901.4,410.2L903,407L895.4,406.7L891.6,411.8L885.3,413.6L881.4,415L877.5,416.4L873.9,419.1L874.7,415.7L872.9,413.8L876.4,410.5L874.1,401.5L871.8,392.4L871.8,384.4L871.8,376.5L869.5,367.3L867.2,358.2L864.9,357.6L863.9,351.6L862.8,345.6L860.7,337.1L858.6,328.5Z" fill="#1c72b2"/>
<path id="st-VT" d="M871.8,376.5L878.1,375.1L884.4,373.8L881.5,368.3L881.7,359.2L881,350.2L883.2,342.8L882.3,336.2L887.8,332.5L887.2,326.8L886.5,321.2L879.5,323.1L872.6,324.9L865.6,326.7L858.6,328.5L860.7,337.1L862.8,345.6L863.9,351.6L864.9,357.6L867.2,358.2L869.5,367.3L871.8,376.5Z" fill="#54a8c9"/>
<path id="st-NH" d="M884.4,373.8L890.5,372.5L896.5,371.1L902.6,369.8L903.7,367.6L907.8,364.2L909.1,364.1L909.8,359.3L907.2,357.1L903.5,353.5L902.7,349.8L899.8,340.7L896.9,331.6L894,322.4L891.1,313.4L886.6,315.7L886.5,321.2L887.2,326.8L887.8,332.5L882.3,336.2L883.2,342.8L881,350.2L881.7,359.2L881.5,368.3L884.4,373.8Z" fill="#2b86bf"/>
<path id="st-ME" d="M909.8,359.3L910.4,352.7L913.3,345.1L919.5,341L922.7,337.8L925.9,334.6L927.9,330L929.8,325.4L930.1,320.7L935.2,321.5L940.4,322.3L944.8,318L949.3,313.8L952.2,310L955.1,306.2L954.7,304L948.3,300.2L943.2,291.4L937.4,290.9L936.2,286.7L933.7,278.5L931.2,270.3L928.7,262.1L921,258L916.5,261.3L912,264.6L909.1,262.7L905.7,260.1L903.5,266.5L901.2,272.9L898.9,279.3L900,285.8L897.5,291.1L899.3,297.4L897,303.8L894.7,310.1L891.1,313.4L894,322.4L896.9,331.6L899.8,340.7L902.7,349.8L903.5,353.5L907.2,357.1L909.8,359.3Z" fill="#65b9cb"/>
<path id="st-MA" d="M871.8,392.4L871.8,384.4L871.8,376.5L878.1,375.1L884.4,373.8L890.5,372.5L896.5,371.1L902.6,369.8L903.7,367.6L907.8,364.2L909.1,364.1L913.8,367.9L911.5,371.9L909.3,376L914.8,377.9L917.1,383.1L920.5,386.3L924.3,384.9L928.2,383.5L923.4,378.6L928.3,381.1L929.7,386L925,388.7L920.2,391.4L917.8,388.6L914.2,394.2L912.3,394.7L909.9,390.8L905.2,384.7L898.6,386.4L891.9,387.9L885.2,389.5L878.5,391L871.8,392.4Z" fill="#254b92"/>
<path id="st-RI" d="M898.6,386.4L905.2,384.7L909.9,390.8L912.3,394.7L908.1,397L907.4,399.2L901.6,401.7L900.1,394L898.6,386.4Z" fill="#338cc2"/>
<path id="st-CT" d="M871.8,392.4L878.5,391L885.2,389.5L891.9,387.9L898.6,386.4L900.1,394L901.6,401.7L896.6,403.5L891.7,405.3L887.2,407.6L882.7,409.9L878.7,412.8L874.7,415.7L872.9,413.8L876.4,410.5L874.1,401.5L871.8,392.4Z" fill="#4a9fc8"/>
<path id="st-AK" d="M115.2,664.6L119.1,667.2L124,669.5L133.8,670.5L145.5,672.5L152.3,671.1L156.2,673.4L168.9,745.7L174.8,743L180.6,746.9L185.5,747.3L189.4,743.8L192.3,743.4L196.2,747.7L202.1,751.6L211.9,759.4L221.6,762.9L223.6,771.1L219.7,773L215.8,775L212.9,775.4L209.9,773L206,770.1L202.1,767.2L198.2,764.3L194.3,760.4L190.4,756.4L186.5,752.5L180.6,749.6L172.8,747.1L165,746.1L157.2,745.7L151.3,744.7L146.4,743.4L144.5,745.7L146.4,747.7L141.6,750L136.7,751.6L132.8,755.5L128.9,756.4L129.8,752L133.4,746.7L137.7,740.8L135.7,739.8L131.8,743.8L127.9,750.6L124,756.4L126.9,762.3L122,763.7L118.1,767.8L112.3,772.5L104.5,778.1L96.6,782L88.8,785.7L81,788.7L73.2,790.6L65.4,794.5L59.5,796.5L53.7,797.7L52.9,795.5L59.5,792.4L67.3,789.1L73.2,785.7L81,783.4L86.9,779.1L94.7,775.2L100.5,772.5L105.4,769.1L108.4,764.3L109.5,760.4L104.5,759.4L98.6,757.8L95.7,759L91.2,757.8L89.8,754.9L91.8,751.6L87.3,748.6L82.6,744.1L80.2,739.8L78.3,735.9L79.1,733L82,728.5L86.9,724.6L91.8,723.4L97,718.8L98.6,714.8L94.7,713.7L89.8,712.9L84.1,712.5L80.2,708.6L79.1,705.1L77.1,702.7L80,700.4L86.9,698L91.2,698.8L95.7,701.2L98.6,701.2L97.8,697.3L95.1,696.1L97,694.1L93.1,689.5L89.2,685.5L85.9,681.2L87.9,679.9L94.7,679.3L98.6,673.8L104.5,669.9L110.3,667.6ZM118.5,771.5L123,768L128.3,767.2L127.3,771.1L122.4,775L119.1,773.8ZM60.5,715.8L64.4,715L69.3,718.8L70.3,720.3L67.3,719.5L63.4,717.4ZM71.2,744.7L74.2,743.8L77.5,745.3L76.7,747.1L73.2,747.7Z" fill="#6abdca"/>
<path id="st-HI" d="M327.1,769.5L333.9,772.8L340.7,776L343.2,781.3L349.1,785.8L343.9,789.4L338.7,792.9L330.8,799.4L326.2,795.2L325.1,789.2L324.1,783.1L327.6,775.4ZM309.5,755.8L311.5,752.9L318.8,754.7L324,758.4L323,761.2L315.7,762.8L313.6,758ZM297.1,751.4L298.1,748.8L303.3,749.3L308.4,749.9L309.1,751.4L303.3,752.1ZM302.2,755.8L306.4,755.3L307,759.1L303.9,759.5ZM276.9,741.1L283.1,738L286.5,742.5L289.8,747L286.7,748.1L280.5,747ZM246,729.9L249.8,726.4L255.9,728.2L255.3,732.6L251.8,734.3L246.6,732.1Z" fill="#254b92"/>
</g>
<path class="water" d="M845.9,490.5L840.3,488.9L833.7,486.7L828.2,485.5"/>
<g class="labels">
<g class="w" id="lb-WA"><text class="v" x="129.94" y="271.33" textLength="49.35" lengthAdjust="spacingAndGlyphs">652K</text>
<text class="a" x="145.57" y="289.90" textLength="21.84" lengthAdjust="spacingAndGlyphs">WA</text></g>
<g class="w" id="lb-OR"><text class="v" x="103.84" y="345.83" textLength="45.41" lengthAdjust="spacingAndGlyphs">571K</text>
<text class="a" x="118.23" y="363.65" textLength="20.53" lengthAdjust="spacingAndGlyphs">OR</text></g>
<g class="w" id="lb-ID"><text class="v" x="197.07" y="374.58" textLength="49.22" lengthAdjust="spacingAndGlyphs">593K</text>
<text class="a" x="216.81" y="393.15" textLength="14.25" lengthAdjust="spacingAndGlyphs">ID</text></g>
<g class="w" id="lb-MT"><text class="v" x="280.44" y="306.58" textLength="48.07" lengthAdjust="spacingAndGlyphs">641K</text>
<text class="a" x="294.38" y="325.15" textLength="21.84" lengthAdjust="spacingAndGlyphs">MT</text></g>
<g class="k" id="lb-ND"><text class="v" x="417.00" y="314.58" textLength="49.72" lengthAdjust="spacingAndGlyphs">363K</text>
<text class="a" x="430.75" y="331.40" textLength="21.48" lengthAdjust="spacingAndGlyphs">ND</text></g>
<g class="k" id="lb-SD"><text class="v" x="415.19" y="378.83" textLength="47.54" lengthAdjust="spacingAndGlyphs">377K</text>
<text class="a" x="433.47" y="395.15" textLength="19.30" lengthAdjust="spacingAndGlyphs">SD</text></g>
<g class="w" id="lb-WY"><text class="v" x="299.12" y="402.83" textLength="48.14" lengthAdjust="spacingAndGlyphs">472K</text>
<text class="a" x="313.09" y="421.15" textLength="21.86" lengthAdjust="spacingAndGlyphs">WY</text></g>
<g class="k" id="lb-MN"><text class="v" x="508.43" y="342.08" textLength="48.26" lengthAdjust="spacingAndGlyphs">387K</text>
<text class="a" x="520.31" y="358.15" textLength="24.87" lengthAdjust="spacingAndGlyphs">MN</text></g>
<g class="k" id="lb-WI"><text class="v" x="578.67" y="377.83" textLength="49.57" lengthAdjust="spacingAndGlyphs">396K</text>
<text class="a" x="595.84" y="392.65" textLength="17.38" lengthAdjust="spacingAndGlyphs">WI</text></g>
<g class="k" id="lb-MI"><text class="v" x="666.69" y="403.83" textLength="50.84" lengthAdjust="spacingAndGlyphs">304K</text>
<text class="a" x="683.33" y="417.65" textLength="17.50" lengthAdjust="spacingAndGlyphs">MI</text></g>
<g class="w" id="lb-NV"><text class="v" x="139.55" y="459.08" textLength="46.68" lengthAdjust="spacingAndGlyphs">501K</text>
<text class="a" x="153.90" y="477.65" textLength="20.26" lengthAdjust="spacingAndGlyphs">NV</text></g>
<g class="w" id="lb-CA"><text class="v" x="93.01" y="530.83" textLength="49.48" lengthAdjust="spacingAndGlyphs">754K</text>
<text class="a" x="111.16" y="549.65" textLength="19.49" lengthAdjust="spacingAndGlyphs">CA</text></g>
<g class="w" id="lb-AZ"><text class="v" x="202.86" y="587.08" textLength="49.66" lengthAdjust="spacingAndGlyphs">484K</text>
<text class="a" x="220.82" y="606.40" textLength="16.94" lengthAdjust="spacingAndGlyphs">AZ</text></g>
<g class="w" id="lb-UT"><text class="v" x="223.43" y="478.58" textLength="49.09" lengthAdjust="spacingAndGlyphs">595K</text>
<text class="a" x="238.20" y="496.90" textLength="19.79" lengthAdjust="spacingAndGlyphs">UT</text></g>
<g class="w" id="lb-CO"><text class="v" x="316.04" y="493.33" textLength="49.48" lengthAdjust="spacingAndGlyphs">589K</text>
<text class="a" x="334.14" y="513.15" textLength="21.68" lengthAdjust="spacingAndGlyphs">CO</text></g>
<g class="k" id="lb-NE"><text class="v" x="419.47" y="445.83" textLength="49.57" lengthAdjust="spacingAndGlyphs">342K</text>
<text class="a" x="436.97" y="462.15" textLength="19.51" lengthAdjust="spacingAndGlyphs">NE</text></g>
<g class="k" id="lb-KS"><text class="v" x="442.43" y="511.58" textLength="49.82" lengthAdjust="spacingAndGlyphs">296K</text>
<text class="a" x="460.49" y="528.40" textLength="18.53" lengthAdjust="spacingAndGlyphs">KS</text></g>
<g class="k" id="lb-NM"><text class="v" x="302.84" y="592.33" textLength="49.40" lengthAdjust="spacingAndGlyphs">407K</text>
<text class="a" x="316.81" y="610.15" textLength="24.87" lengthAdjust="spacingAndGlyphs">NM</text></g>
<g class="k" id="lb-OK"><text class="v" x="465.49" y="579.58" textLength="50.53" lengthAdjust="spacingAndGlyphs">304K</text>
<text class="a" x="481.72" y="595.15" textLength="19.28" lengthAdjust="spacingAndGlyphs">OK</text></g>
<g class="k" id="lb-IA"><text class="v" x="522.69" y="436.58" textLength="50.58" lengthAdjust="spacingAndGlyphs">280K</text>
<text class="a" x="540.80" y="451.40" textLength="13.61" lengthAdjust="spacingAndGlyphs">IA</text></g>
<g class="k" id="lb-IL"><text class="v" x="597.26" y="477.08" textLength="46.02" lengthAdjust="spacingAndGlyphs">315K</text>
<text class="a" x="616.98" y="494.65" textLength="12.36" lengthAdjust="spacingAndGlyphs">IL</text></g>
<g class="k" id="lb-IN"><text class="v" x="646.69" y="474.08" textLength="50.33" lengthAdjust="spacingAndGlyphs">304K</text>
<text class="a" x="663.80" y="489.65" textLength="15.74" lengthAdjust="spacingAndGlyphs">IN</text></g>
<g class="k" id="lb-OH"><text class="v" x="701.48" y="461.58" textLength="49.31" lengthAdjust="spacingAndGlyphs">285K</text>
<text class="a" x="716.64" y="476.40" textLength="22.43" lengthAdjust="spacingAndGlyphs">OH</text></g>
<g class="k" id="lb-MO"><text class="v" x="546.19" y="519.83" textLength="50.33" lengthAdjust="spacingAndGlyphs">305K</text>
<text class="a" x="561.40" y="537.15" textLength="24.47" lengthAdjust="spacingAndGlyphs">MO</text></g>
<g class="k" id="lb-KY"><text class="v" x="685.11" y="524.58" textLength="46.02" lengthAdjust="spacingAndGlyphs">315K</text>
<text class="a" x="698.47" y="538.90" textLength="18.71" lengthAdjust="spacingAndGlyphs">KY</text></g>
<g class="k" id="lb-TN"><text class="v" x="651.89" y="563.33" textLength="48.90" lengthAdjust="spacingAndGlyphs">437K</text>
<text class="a" x="668.16" y="579.65" textLength="18.71" lengthAdjust="spacingAndGlyphs">TN</text></g>
<g class="k" id="lb-AR"><text class="v" x="550.53" y="591.58" textLength="43.49" lengthAdjust="spacingAndGlyphs">311K</text>
<text class="a" x="562.85" y="607.15" textLength="17.87" lengthAdjust="spacingAndGlyphs">AR</text></g>
<g class="k" id="lb-WV"><text class="v" x="738.23" y="494.83" textLength="48.03" lengthAdjust="spacingAndGlyphs">262K</text>
<text class="a" x="751.82" y="508.15" textLength="21.87" lengthAdjust="spacingAndGlyphs">WV</text></g>
<g class="k" id="lb-PA"><text class="v" x="781.58" y="431.33" textLength="48.96" lengthAdjust="spacingAndGlyphs">325K</text>
<text class="a" x="796.80" y="445.65" textLength="18.68" lengthAdjust="spacingAndGlyphs">PA</text></g>
<g class="k" id="lb-VA"><text class="v" x="784.89" y="505.83" textLength="48.90" lengthAdjust="spacingAndGlyphs">458K</text>
<text class="a" x="801.29" y="521.40" textLength="18.59" lengthAdjust="spacingAndGlyphs">VA</text></g>
<g class="k" id="lb-NC"><text class="v" x="784.89" y="551.58" textLength="48.90" lengthAdjust="spacingAndGlyphs">427K</text>
<text class="a" x="800.90" y="566.40" textLength="21.54" lengthAdjust="spacingAndGlyphs">NC</text></g>
<g class="k" id="lb-SC"><text class="v" x="757.74" y="593.58" textLength="48.05" lengthAdjust="spacingAndGlyphs">372K</text>
<text class="a" x="773.21" y="608.90" textLength="19.68" lengthAdjust="spacingAndGlyphs">SC</text></g>
<g class="k" id="lb-LA"><text class="v" x="550.73" y="659.83" textLength="46.25" lengthAdjust="spacingAndGlyphs">281K</text>
<text class="a" x="563.95" y="677.90" textLength="17.45" lengthAdjust="spacingAndGlyphs">LA</text></g>
<g class="k" id="lb-MS"><text class="v" x="599.19" y="632.33" textLength="50.33" lengthAdjust="spacingAndGlyphs">304K</text>
<text class="a" x="615.92" y="649.65" textLength="22.41" lengthAdjust="spacingAndGlyphs">MS</text></g>
<g class="k" id="lb-AL"><text class="v" x="655.47" y="632.33" textLength="49.57" lengthAdjust="spacingAndGlyphs">336K</text>
<text class="a" x="673.35" y="646.65" textLength="17.25" lengthAdjust="spacingAndGlyphs">AL</text></g>
<g class="k" id="lb-GA"><text class="v" x="716.89" y="632.33" textLength="48.90" lengthAdjust="spacingAndGlyphs">402K</text>
<text class="a" x="731.51" y="650.90" textLength="20.49" lengthAdjust="spacingAndGlyphs">GA</text></g>
<g class="k" id="lb-FL"><text class="v" x="765.36" y="732.33" textLength="50.16" lengthAdjust="spacingAndGlyphs">433K</text>
<text class="a" x="785.94" y="748.40" textLength="16.92" lengthAdjust="spacingAndGlyphs">FL</text></g>
<g class="k" id="lb-TX"><text class="v" x="413.20" y="662.83" textLength="49.82" lengthAdjust="spacingAndGlyphs">366K</text>
<text class="a" x="432.06" y="681.40" textLength="17.86" lengthAdjust="spacingAndGlyphs">TX</text></g>
<g class="k" id="lb-HI"><text class="v" x="267.77" y="789.08" textLength="48.97" lengthAdjust="spacingAndGlyphs">764K</text>
<text class="a" x="284.86" y="807.65" textLength="15.44" lengthAdjust="spacingAndGlyphs">HI</text></g>
<g class="w" id="lb-AK"><text class="v" x="106.11" y="708.58" textLength="50.16" lengthAdjust="spacingAndGlyphs">449K</text>
<text class="a" x="122.10" y="726.40" textLength="17.93" lengthAdjust="spacingAndGlyphs">AK</text></g>
<g class="k" id="lb-ME"><text class="v" x="895.86" y="307.83" textLength="49.66" lengthAdjust="spacingAndGlyphs">458K</text>
<text class="a" x="909.48" y="321.40" textLength="21.00" lengthAdjust="spacingAndGlyphs">ME</text></g>
<g class="w" id="lb-NY"><text class="v" x="818.23" y="383.33" textLength="46.80" lengthAdjust="spacingAndGlyphs">661K</text>
<text class="a" x="831.17" y="396.90" textLength="20.00" lengthAdjust="spacingAndGlyphs">NY</text></g>
<g class="k" id="lb-NH"><text class="v" x="800.39" y="297.83" textLength="51.54" lengthAdjust="spacingAndGlyphs">600K</text>
<text class="a" x="854.80" y="297.60" textLength="21.48" lengthAdjust="spacingAndGlyphs">NH</text></g>
<g class="k" id="lb-VT"><text class="v" x="801.23" y="315.83" textLength="49.99" lengthAdjust="spacingAndGlyphs">508K</text>
<text class="a" x="857.57" y="315.25" textLength="17.01" lengthAdjust="spacingAndGlyphs">VT</text></g>
<g class="k" id="lb-MA"><text class="v" x="918.05" y="358.93" textLength="48.56" lengthAdjust="spacingAndGlyphs">763K</text>
<text class="a" x="974.30" y="357.90" textLength="22.40" lengthAdjust="spacingAndGlyphs">MA</text></g>
<g class="k" id="lb-RI"><text class="v" x="920.55" y="381.68" textLength="48.72" lengthAdjust="spacingAndGlyphs">583K</text>
<text class="a" x="974.71" y="379.95" textLength="13.63" lengthAdjust="spacingAndGlyphs">RI</text></g>
<g class="k" id="lb-CT"><text class="v" x="921.31" y="404.23" textLength="47.95" lengthAdjust="spacingAndGlyphs">523K</text>
<text class="a" x="974.80" y="403.60" textLength="19.11" lengthAdjust="spacingAndGlyphs">CT</text></g>
<g class="k" id="lb-NJ"><text class="v" x="887.33" y="443.03" textLength="50.19" lengthAdjust="spacingAndGlyphs">560K</text>
<text class="a" x="942.95" y="442.80" textLength="18.98" lengthAdjust="spacingAndGlyphs">NJ</text></g>
<g class="k" id="lb-DE"><text class="v" x="877.61" y="465.43" textLength="49.81" lengthAdjust="spacingAndGlyphs">494K</text>
<text class="a" x="935.34" y="464.70" textLength="18.30" lengthAdjust="spacingAndGlyphs">DE</text></g>
<g class="k" id="lb-MD"><text class="v" x="872.47" y="489.03" textLength="48.65" lengthAdjust="spacingAndGlyphs">447K</text>
<text class="a" x="926.98" y="488.40" textLength="23.51" lengthAdjust="spacingAndGlyphs">MD</text></g>
<g class="k" id="lb-DC"><text class="v" x="872.14" y="514.53" textLength="49.48" lengthAdjust="spacingAndGlyphs">596K</text>
<text class="a" x="927.03" y="513.90" textLength="21.00" lengthAdjust="spacingAndGlyphs">DC</text></g>
</g>
</svg>
</figure>
<footer class="legend">
<svg class="scale" style="left:16px;top:816px" width="280" height="56" viewBox="16 816 280 56" role="img" aria-label="Colour scale from 262,000 to 764,000">
<defs><linearGradient id="lg" x1="0" x2="1" y1="0" y2="0">
<stop offset="0" stop-color="#e8f5dd"/><stop offset="0.16" stop-color="#b8e3bc"/><stop offset="0.33" stop-color="#86cfc2"/><stop offset="0.5" stop-color="#4fa9cb"/><stop offset="0.66" stop-color="#2b86bf"/><stop offset="0.8" stop-color="#1c70b1"/><stop offset="1" stop-color="#254a90"/>
</linearGradient></defs>
<rect x="28" y="823.6" width="246" height="18.7" fill="url(#lg)"/>
<text class="lt" x="27.75" y="859.85" textLength="61.42" lengthAdjust="spacingAndGlyphs">262,000</text>
<text class="lt" x="212.32" y="859.85" textLength="61.85" lengthAdjust="spacingAndGlyphs">764,000</text>
</svg>
</footer>
</body>
</html>
